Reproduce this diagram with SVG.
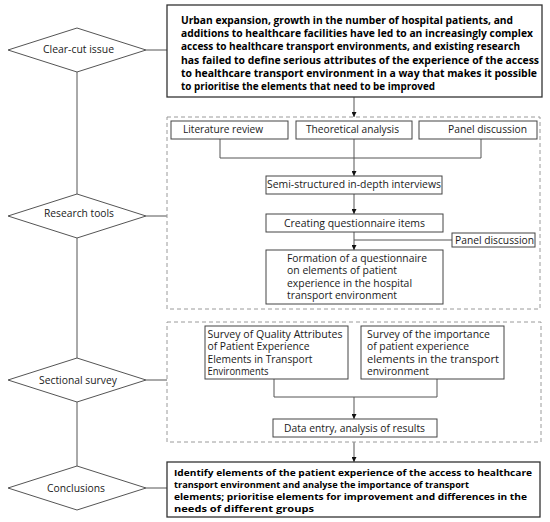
<svg xmlns="http://www.w3.org/2000/svg" width="550" height="522" viewBox="0 0 550 522">
<defs>
<style>
.bg{fill:#ffffff}
.dia{fill:#ffffff;stroke:#555555;stroke-width:1}
.box{fill:#ffffff;stroke:#444444;stroke-width:1}
.bbox{fill:#ffffff;stroke:#333333;stroke-width:1.3}
.dash{fill:none;stroke:#9a9a9a;stroke-width:1;stroke-dasharray:4,3}
.ln{fill:none;stroke:#555555;stroke-width:1}
.t{font-family:"Open Sans","Noto Sans","Liberation Sans",sans-serif;font-size:10px;fill:#1a1a1a}
.b{font-family:"Open Sans","Noto Sans","Liberation Sans",sans-serif;font-size:9.8px;font-weight:bold;fill:#000000}
.bc{font-size:9.3px}
.m{text-anchor:middle}
</style>
<marker id="arr" viewBox="0 0 8 8" refX="8" refY="4" markerWidth="5" markerHeight="5" orient="auto" markerUnits="userSpaceOnUse">
<path d="M0,0 L8,4 L0,8 z" fill="#111111"/>
</marker>
</defs>
<rect class="bg" x="0" y="0" width="550" height="522"/>

<g id="connectors">
<path class="ln" d="M77,72 V194"/>
<path class="ln" d="M77,238 V358"/>
<path class="ln" d="M77,402 V466"/>
<path class="ln" d="M146,50 H167"/>
<path class="ln" d="M146,216 H167"/>
<path class="ln" d="M146,380 H167"/>
<path class="ln" d="M146,488 H167"/>
<path class="ln" d="M354,97 V117" marker-end="url(#arr)"/>
<path class="ln" d="M220,139 V158 H481 V139"/>
<path class="ln" d="M354,139 V176" marker-end="url(#arr)"/>
<path class="ln" d="M354,194 V214" marker-end="url(#arr)"/>
<path class="ln" d="M354,232 V250" marker-end="url(#arr)"/>
<path class="ln" d="M452,240 H354"/>
<path class="ln" d="M274,379 V397 H437 V379"/>
<path class="ln" d="M354,397 V419" marker-end="url(#arr)"/>
<path class="ln" d="M354,442 V462" marker-end="url(#arr)"/>
</g>

<g id="dashed-research">
<rect class="dash" x="167" y="117" width="373" height="192"/>
</g>
<g id="dashed-survey">
<rect class="dash" x="167" y="322" width="374" height="120"/>
</g>

<g id="clear-cut-issue">
<polygon class="dia" points="8,50 77,28 146,50 77,72"/>
<text class="t m" x="78.5" y="52.5" textLength="71" lengthAdjust="spacingAndGlyphs">Clear-cut issue</text>
</g>
<g id="research-tools">
<polygon class="dia" points="8,216 77,194 146,216 77,238"/>
<text class="t m" x="79" y="216.5" textLength="70" lengthAdjust="spacingAndGlyphs">Research tools</text>
</g>
<g id="sectional-survey">
<polygon class="dia" points="8,380 77,358 146,380 77,402"/>
<text class="t m" x="78" y="383.5" textLength="78" lengthAdjust="spacingAndGlyphs">Sectional survey</text>
</g>
<g id="conclusions">
<polygon class="dia" points="8,488 77,466 146,488 77,510"/>
<text class="t m" x="76" y="491.5" textLength="58" lengthAdjust="spacingAndGlyphs">Conclusions</text>
</g>

<g id="issue-box">
<rect class="bbox" x="167" y="5" width="375" height="92"/>
<text class="b" x="181" y="24.2" textLength="332" lengthAdjust="spacingAndGlyphs">Urban expansion, growth in the number of  hospital patients, and</text>
<text class="b" x="181" y="37.3" textLength="352" lengthAdjust="spacingAndGlyphs">additions to healthcare facilities have led to an increasingly complex</text>
<text class="b" x="181" y="50.4" textLength="339" lengthAdjust="spacingAndGlyphs">access to healthcare transport environments, and existing research</text>
<text class="b" x="181" y="63.5" textLength="358" lengthAdjust="spacingAndGlyphs">has failed to define serious attributes of the experience of the access</text>
<text class="b" x="181" y="76.6" textLength="356" lengthAdjust="spacingAndGlyphs">to healthcare transport environment in a way that makes it possible</text>
<text class="b" x="181" y="89.7" textLength="254" lengthAdjust="spacingAndGlyphs">to prioritise the elements that need to be improved</text>
</g>

<g id="literature-review">
<rect class="box" x="171" y="121" width="117" height="18"/>
<text class="t" x="183" y="133" textLength="80" lengthAdjust="spacingAndGlyphs">Literature review</text>
</g>
<g id="theoretical-analysis">
<rect class="box" x="296" y="121" width="116" height="18"/>
<text class="t" x="306" y="133" textLength="93" lengthAdjust="spacingAndGlyphs">Theoretical analysis</text>
</g>
<g id="panel-discussion-1">
<rect class="box" x="419" y="121" width="118" height="18"/>
<text class="t" x="448" y="133" textLength="79" lengthAdjust="spacingAndGlyphs">Panel discussion</text>
</g>
<g id="interviews">
<rect class="box" x="266" y="176" width="176" height="18"/>
<text class="t" x="267" y="188" textLength="174" lengthAdjust="spacingAndGlyphs">Semi-structured in-depth interviews</text>
</g>
<g id="questionnaire-items">
<rect class="box" x="266" y="214" width="177" height="18"/>
<text class="t" x="284" y="226.5" textLength="141" lengthAdjust="spacingAndGlyphs">Creating questionnaire items</text>
</g>
<g id="panel-discussion-2">
<rect class="box" x="452" y="233" width="83" height="14"/>
<text class="t" x="455" y="243.5" textLength="79" lengthAdjust="spacingAndGlyphs">Panel discussion</text>
</g>
<g id="formation">
<rect class="box" x="266" y="250" width="177" height="54"/>
<text class="t" x="287" y="261.5" textLength="140" lengthAdjust="spacingAndGlyphs">Formation of a questionnaire</text>
<text class="t" x="287" y="274" textLength="110" lengthAdjust="spacingAndGlyphs">on elements of patient</text>
<text class="t" x="287" y="286.5" textLength="125" lengthAdjust="spacingAndGlyphs">experience in the hospital</text>
<text class="t" x="287" y="299" textLength="110" lengthAdjust="spacingAndGlyphs">transport environment</text>
</g>

<g id="survey-quality">
<rect class="box" x="205" y="326" width="143" height="53"/>
<text class="t" x="207.5" y="337.5" textLength="135" lengthAdjust="spacingAndGlyphs">Survey of Quality Attributes</text>
<text class="t" x="207.5" y="350" textLength="102" lengthAdjust="spacingAndGlyphs">of Patient Experience</text>
<text class="t" x="207.5" y="362.5" textLength="105" lengthAdjust="spacingAndGlyphs">Elements in Transport</text>
<text class="t" x="207.5" y="375" textLength="61" lengthAdjust="spacingAndGlyphs">Environments</text>
</g>
<g id="survey-importance">
<rect class="box" x="361" y="326" width="143" height="53"/>
<text class="t" x="367" y="337.5" textLength="123" lengthAdjust="spacingAndGlyphs">Survey of the importance</text>
<text class="t" x="367" y="350" textLength="102" lengthAdjust="spacingAndGlyphs">of patient experience</text>
<text class="t" x="367" y="362.5" textLength="132" lengthAdjust="spacingAndGlyphs">elements in the transport</text>
<text class="t" x="367" y="375" textLength="62" lengthAdjust="spacingAndGlyphs">environment</text>
</g>
<g id="data-entry">
<rect class="box" x="273" y="419" width="164" height="18"/>
<text class="t" x="284" y="431.5" textLength="141" lengthAdjust="spacingAndGlyphs">Data entry, analysis of results</text>
</g>

<g id="conclusions-box">
<rect class="bbox" x="167" y="462" width="373" height="55"/>
<text class="b bc" x="174" y="475.5" textLength="358" lengthAdjust="spacingAndGlyphs">Identify elements of the patient experience of the access to healthcare</text>
<text class="b bc" x="174" y="487.5" textLength="295" lengthAdjust="spacingAndGlyphs">transport environment and analyse the importance of transport</text>
<text class="b bc" x="174" y="499.5" textLength="353" lengthAdjust="spacingAndGlyphs">elements; prioritise elements for improvement and differences in the</text>
<text class="b bc" x="174" y="511.5" textLength="140" lengthAdjust="spacingAndGlyphs">needs of different groups</text>
</g>
</svg>
